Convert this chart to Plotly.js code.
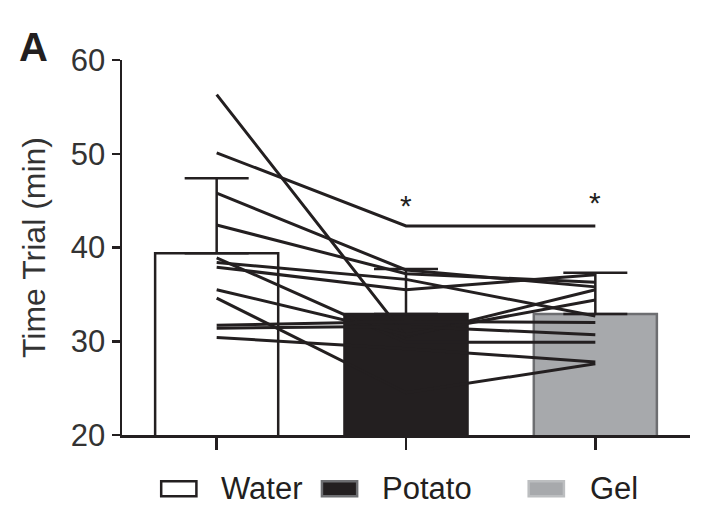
<!DOCTYPE html>
<html>
<head>
<meta charset="utf-8">
<script src="https://cdn.plot.ly/plotly-3.0.1.min.js"></script>
<style>
  html, body { margin: 0; padding: 0; background: #fff; }
  #chart { width: 702px; height: 511px; }
</style>
</head>
<body>
<div id="chart"></div>
<script>
// conditions and group summaries (mean and SD, min)
const conditions = ['Water', 'Potato', 'Gel'];
const meanTime = [39.4, 32.9, 32.9];
const sdTime = [8.0, 4.8, 4.4];

// individual subjects, one value per condition
const water  = [56.3, 50.1, 45.8, 42.4, 38.9, 38.4, 37.9, 35.5, 34.6, 31.7, 31.4, 30.4];
const potato = [30.5, 42.3, 37.6, 37.2, 29.9, 36.6, 35.5, 30.7, 24.5, 32.1, 31.6, 29.2];
const gel    = [35.5, 42.3, 35.8, 36.3, 29.9, 32.7, 37.1, 34.4, 27.6, 32.0, 30.7, 27.8];

const yTicks = [20, 30, 40, 50, 60];
const sigMarks = ['Potato', 'Gel'];
const sigLevel = [44.5, 44.8];

const ink = '#231f20';
const barFill = ['#ffffff', ink, '#a7a9ac'];
const barEdge = [ink, ink, '#6d6e71'];
const keyEdge = [ink, '#6d6e71', '#bcbec0'];
const font = 'Liberation Sans, Arial, sans-serif';

// hand-made key, wide boxes like the original figure (paper coords)
const keyBoxX = [0.069, 0.352, 0.716];
const keyTextX = [0.171, 0.454, 0.820];
const keyW = 0.062;
const keyY = -0.143;

const bars = conditions.map((c, i) => ({
    type: 'bar',
    name: c,
    x: [c],
    y: [meanTime[i]],
    width: 0.65,
    marker: { color: barFill[i], line: { color: barEdge[i], width: 2.5 } },
    error_y: {
        type: 'data',
        symmetric: false,
        array: [sdTime[i]],
        arrayminus: [0],
        color: ink,
        thickness: 2.5,
        width: 32
    },
    showlegend: false,
    hoverinfo: 'skip'
}));

const subjects = water.map((w, i) => ({
    type: 'scatter',
    mode: 'lines',
    x: conditions,
    y: [w, potato[i], gel[i]],
    line: { color: ink, width: 3 },
    showlegend: false,
    hoverinfo: 'skip'
}));

const keyShapes = conditions.map((c, i) => ({
    type: 'rect', xref: 'paper', yref: 'paper',
    x0: keyBoxX[i], x1: keyBoxX[i] + keyW,
    y0: keyY - 0.02, y1: keyY + 0.02,
    fillcolor: barFill[i],
    line: { color: keyEdge[i], width: 2.5 }
}));

const keyLabels = conditions.map((c, i) => ({
    text: c, xref: 'paper', yref: 'paper', x: keyTextX[i], y: keyY,
    xanchor: 'left', yanchor: 'middle', showarrow: false,
    font: { family: font, size: 31, color: ink }
}));

const layout = {
    width: 702,
    height: 511,
    margin: { l: 122, r: 12, t: 60, b: 76, autoexpand: false },
    paper_bgcolor: '#fff',
    plot_bgcolor: '#fff',
    barmode: 'overlay',
    showlegend: false,
    font: { family: font, color: ink, size: 31 },
    xaxis: {
        type: 'category',
        range: [-0.5, 2.5],
        showline: true,
        linecolor: ink,
        linewidth: 2.5,
        ticks: 'outside',
        ticklen: 12,
        tickwidth: 2.5,
        tickcolor: ink,
        showticklabels: false,
        showgrid: false,
        zeroline: false
    },
    yaxis: {
        range: [20, 60],
        tickvals: yTicks,
        ticks: 'outside',
        ticklen: 8,
        tickwidth: 2.5,
        tickcolor: ink,
        showline: true,
        linecolor: ink,
        linewidth: 2.5,
        showgrid: false,
        zeroline: false,
        tickfont: { family: font, size: 31, color: '#333' },
        title: { text: 'Time Trial (min)', font: { family: font, size: 32, color: '#333' }, standoff: 16 }
    },
    shapes: keyShapes,
    annotations: [
        { text: '<b>A</b>', xref: 'paper', yref: 'paper', x: -0.155, y: 1.035,
          xanchor: 'center', yanchor: 'middle', showarrow: false,
          font: { family: font, size: 40, color: ink } }
    ].concat(sigMarks.map((c, i) => ({
        text: '*', xref: 'x', yref: 'y', x: c, y: sigLevel[i],
        xanchor: 'center', yanchor: 'middle', showarrow: false,
        font: { family: font, size: 30, color: ink }
    }))).concat(keyLabels)
};

Plotly.newPlot('chart', bars.concat(subjects), layout, { displayModeBar: false, staticPlot: true });
</script>
</body>
</html>
